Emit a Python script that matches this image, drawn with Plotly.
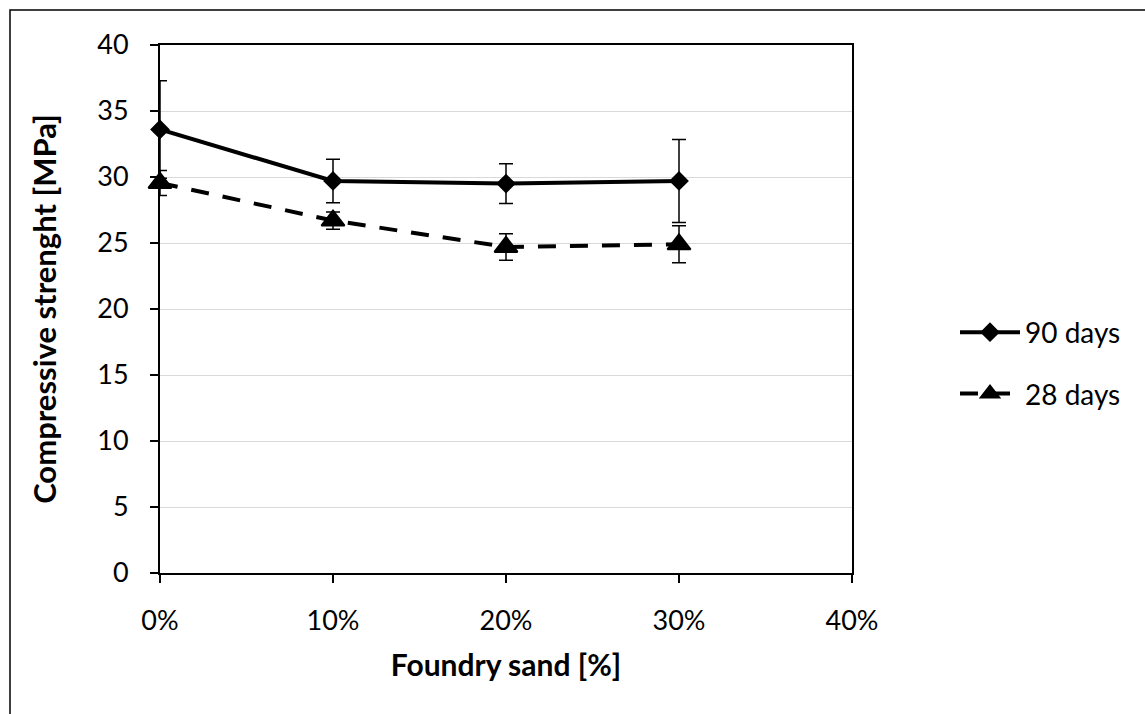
import plotly.graph_objects as go

# ---- data ----
sand = [0.0, 0.1, 0.2, 0.3]
days90 = [33.6, 29.7, 29.5, 29.7]
days90_err = [3.7, 1.65, 1.5, 3.15]
days28 = [29.55, 26.7, 24.7, 24.9]
days28_err = [0.95, 0.65, 1.0, 1.4]
y_ticks = [0, 5, 10, 15, 20, 25, 30, 35, 40]
x_ticks = [0.0, 0.1, 0.2, 0.3, 0.4]

FONT = "Lato"
W, H = 1145, 714
ML, MR, MT, MB = 160, 293, 45, 141

fig = go.Figure()
fig.add_trace(go.Scatter(
    x=sand, y=days90, name="90 days", mode="lines+markers",
    legendgroup="a",
    line=dict(color="black", width=4),
    marker=dict(symbol="diamond", size=13, color="black", line=dict(color="black", width=2)),
    error_y=dict(type="data", array=days90_err, visible=True, color="black", thickness=1.5, width=7),
    cliponaxis=False,
))
fig.add_trace(go.Scatter(
    x=sand, y=days28, name="28 days", mode="lines+markers",
    legendgroup="b",
    line=dict(color="black", width=4, dash="18px,14px"),
    marker=dict(symbol="triangle-up", size=20, color="black", line=dict(color="black", width=2)),
    error_y=dict(type="data", array=days28_err, visible=True, color="black", thickness=1.5, width=7),
    cliponaxis=False,
))

pw = W - ML - MR
ph = H - MT - MB
fig.add_shape(type="rect", xref="paper", yref="paper",
              x0=(10 - ML) / pw, x1=3, y0=-3, y1=(H - MB - 10) / ph,
              line=dict(color="black", width=1.5), fillcolor="rgba(0,0,0,0)", layer="below")

fig.update_layout(
    width=W, height=H,
    margin=dict(l=ML, r=MR, t=MT, b=MB),
    paper_bgcolor="white", plot_bgcolor="white",
    font=dict(family=FONT, size=27, color="black"),
    showlegend=True,
    legend=dict(x=(955 - ML) / pw, xanchor="left", y=(H - MB - 363) / ph, yanchor="middle",
                traceorder="grouped", tracegroupgap=22, font=dict(size=28),
                itemwidth=60,
                bgcolor="rgba(0,0,0,0)"),
    xaxis=dict(
        range=[0, 0.4], tickvals=x_ticks, tickformat=".0%",
        showline=True, linecolor="black", linewidth=2, mirror=True,
        ticks="outside", ticklen=8, tickwidth=1.5, tickcolor="black",
        showgrid=False, zeroline=False, layer="below traces",
        ticklabelstandoff=15, tickfont=dict(size=27),
        title=dict(text="<b>Foundry sand [%]</b>", font=dict(size=30), standoff=20),
    ),
    yaxis=dict(
        range=[0, 40], tickvals=y_ticks,
        showline=True, linecolor="black", linewidth=2, mirror=True,
        ticks="outside", ticklen=8, tickwidth=1.5, tickcolor="black",
        showgrid=True, gridcolor="#d9d9d9", gridwidth=1.2, zeroline=False,
        layer="below traces", ticklabelstandoff=16, tickfont=dict(size=27),
        title=dict(text="<b>Compressive strenght [MPa]</b>", font=dict(size=31), standoff=31),
    ),
)

fig.write_html("out.html")
